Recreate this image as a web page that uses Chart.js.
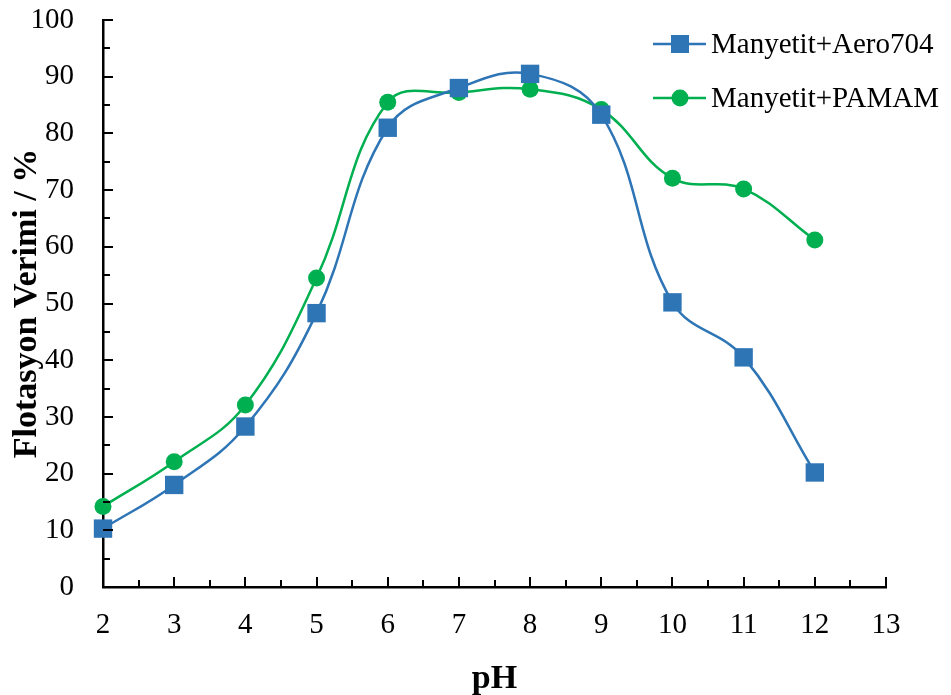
<!DOCTYPE html>
<html>
<head>
<meta charset="utf-8">
<script src="https://cdn.jsdelivr.net/npm/chart.js@4.4.1/dist/chart.umd.min.js"></script>
<style>
  html, body { margin: 0; padding: 0; background: #fff; }
  #wrap { width: 951px; height: 695px; position: relative; }
</style>
</head>
<body>
<div id="wrap"><canvas id="chart"></canvas></div>
<script>
// pH values and flotation yields (%)
const phValues = [2, 3, 4, 5, 6, 7, 8, 9, 10, 11, 12];
const aero704 = [10.3, 18.0, 28.3, 48.3, 81.0, 88.0, 90.5, 83.3, 50.2, 40.5, 20.2];
const pamam = [14.2, 22.1, 32.1, 54.5, 85.5, 87.2, 87.8, 84.2, 72.1, 70.2, 61.2];
const seriesNames = ['Manyetit+Aero704', 'Manyetit+PAMAM'];

const FONT = "'Liberation Serif', 'Times New Roman', serif";
const BLUE = '#2E75B6';
const GREEN = '#00B050';

function toPoints(values) {
  return phValues.map((x, i) => ({ x: x, y: values[i] }));
}

// Excel-style inner tick marks (major + minor) on both axes
const innerTicks = {
  id: 'innerTicks',
  afterDraw(chart) {
    const ctx = chart.ctx;
    const xs = chart.scales.x, ys = chart.scales.y;
    const area = chart.chartArea;
    ctx.save();
    ctx.strokeStyle = '#000';
    ctx.lineWidth = 2;
    for (let v = 2; v <= 13; v += 0.5) {
      const px = Math.round(xs.getPixelForValue(v));
      const len = Number.isInteger(v) ? 10 : 7;
      ctx.beginPath();
      ctx.moveTo(px, area.bottom);
      ctx.lineTo(px, area.bottom - len);
      ctx.stroke();
    }
    for (let v = 0; v <= 100; v += 5) {
      const py = Math.round(ys.getPixelForValue(v));
      const len = v % 10 === 0 ? 10 : 7;
      ctx.beginPath();
      ctx.moveTo(area.left, py);
      ctx.lineTo(area.left + len, py);
      ctx.stroke();
    }
    ctx.restore();
  }
};

// legend drawn inside the plot, top right
const insideLegend = {
  id: 'insideLegend',
  afterDraw(chart) {
    const ctx = chart.ctx;
    const rows = [44, 98];
    ctx.save();
    chart.data.datasets.forEach((ds, i) => {
      const y = rows[i];
      ctx.strokeStyle = ds.borderColor;
      ctx.lineWidth = ds.borderWidth;
      ctx.beginPath();
      ctx.moveTo(653, y);
      ctx.lineTo(706, y);
      ctx.stroke();
      ctx.fillStyle = ds.pointBackgroundColor;
      if (ds.pointStyle === 'rect') {
        ctx.fillRect(680 - 9, y - 9, 18, 18);
      } else {
        ctx.beginPath();
        ctx.arc(680, y, 8.5, 0, Math.PI * 2);
        ctx.fill();
      }
      ctx.fillStyle = '#000';
      ctx.font = '29px ' + FONT;
      ctx.textBaseline = 'middle';
      ctx.fillText(ds.label, 711, y + 1);
    });
    ctx.restore();
  }
};

new Chart(document.getElementById('chart'), {
  type: 'line',
  data: {
    datasets: [
      {
        label: seriesNames[0],
        data: toPoints(aero704),
        borderColor: BLUE,
        borderWidth: 2.5,
        pointStyle: 'rect',
        pointRadius: 13,
        pointBackgroundColor: BLUE,
        pointBorderWidth: 0,
        tension: 0.4,
        clip: false
      },
      {
        label: seriesNames[1],
        data: toPoints(pamam),
        borderColor: GREEN,
        borderWidth: 2.5,
        pointStyle: 'circle',
        pointRadius: 8.5,
        pointBackgroundColor: GREEN,
        pointBorderWidth: 0,
        tension: 0.4,
        clip: false
      }
    ]
  },
  options: {
    responsive: true,
    maintainAspectRatio: false,
    animation: false,
    layout: { padding: { top: 20, right: 65, left: 0, bottom: 0 } },
    plugins: {
      legend: { display: false },
      tooltip: { enabled: false }
    },
    scales: {
      x: {
        type: 'linear',
        min: 2,
        max: 13,
        afterFit: s => { s.height = 108; s.paddingLeft = 0; s.paddingRight = 0; },
        grid: { display: false },
        border: { color: '#000', width: 2.5 },
        ticks: {
          stepSize: 1,
          padding: 13,
          color: '#000',
          font: { family: FONT, size: 29 }
        },
        title: {
          display: true,
          text: 'pH',
          color: '#000',
          font: { family: FONT, size: 34, weight: 'bold' },
          padding: { top: 0, bottom: -5 }
        }
      },
      y: {
        min: 0,
        max: 100,
        afterFit: s => { s.width = 103; s.paddingTop = 0; s.paddingBottom = 0; },
        grid: { display: false },
        border: { color: '#000', width: 2.5 },
        ticks: {
          stepSize: 10,
          padding: 21,
          color: '#000',
          font: { family: FONT, size: 29 }
        },
        title: {
          display: true,
          text: 'Flotasyon Verimi / %',
          color: '#000',
          font: { family: FONT, size: 34, weight: 'bold' },
          padding: { top: 7, bottom: 0 }
        }
      }
    }
  },
  plugins: [innerTicks, insideLegend]
});
</script>
</body>
</html>
